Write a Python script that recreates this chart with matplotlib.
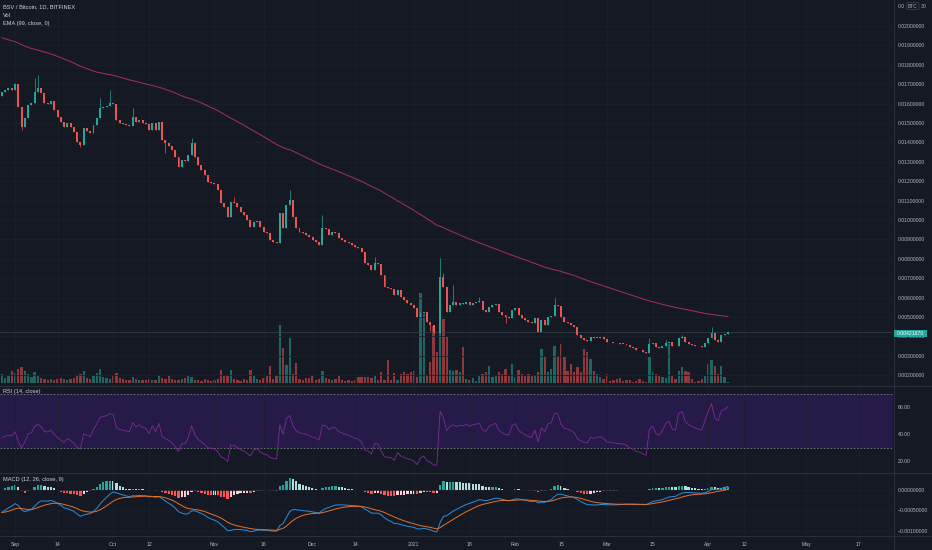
import matplotlib
matplotlib.use("Agg")
import matplotlib.pyplot as plt
import matplotlib.dates as mdates
from matplotlib.lines import Line2D
from matplotlib.patches import Rectangle
import numpy as np
import pandas as pd

# BSV / BTC daily candles (Bitfinex), 28 Aug 2020 .. 7 Apr 2021
first_date = "2020-08-28"
first_open = 0.01640
closes = [
    0.01660, 0.01670, 0.01680, 0.01670, 0.01701, 0.01582, 0.01479, 0.01526, 0.01593, 0.01603,
    0.01660, 0.01680, 0.01655, 0.01603, 0.01598, 0.01613, 0.01567, 0.01531, 0.01505, 0.01479,
    0.01500, 0.01479, 0.01454, 0.01402, 0.01387, 0.01474, 0.01459, 0.01448, 0.01490, 0.01526,
    0.01577, 0.01582, 0.01588, 0.01603, 0.01598, 0.01515, 0.01500, 0.01495, 0.01490, 0.01485,
    0.01531, 0.01505, 0.01515, 0.01500, 0.01495, 0.01464, 0.01500, 0.01464, 0.01505, 0.01412,
    0.01397, 0.01381, 0.01361, 0.01325, 0.01273, 0.01309, 0.01305, 0.01335, 0.01397, 0.01325,
    0.01284, 0.01258, 0.01232, 0.01196, 0.01191, 0.01186, 0.01155, 0.01088, 0.01067, 0.01015,
    0.01093, 0.01090, 0.01067, 0.01041, 0.01026, 0.01000, 0.00964, 0.00990, 0.00995, 0.00964,
    0.00938, 0.00933, 0.00897, 0.00887, 0.00881, 0.01036, 0.00959, 0.01077, 0.01103, 0.01015,
    0.00959, 0.00938, 0.00933, 0.00923, 0.00912, 0.00897, 0.00887, 0.00871, 0.00959, 0.00953,
    0.00923, 0.00938, 0.00933, 0.00907, 0.00897, 0.00887, 0.00881, 0.00871, 0.00861, 0.00856,
    0.00835, 0.00778, 0.00768, 0.00742, 0.00778, 0.00775, 0.00716, 0.00655, 0.00650, 0.00645,
    0.00613, 0.00639, 0.00603, 0.00588, 0.00572, 0.00562, 0.00546, 0.00500, 0.00521, 0.00526,
    0.00474, 0.00459, 0.00418, 0.00415, 0.00706, 0.00655, 0.00526, 0.00562, 0.00577, 0.00562,
    0.00572, 0.00567, 0.00577, 0.00562, 0.00572, 0.00575, 0.00580, 0.00536, 0.00526, 0.00552,
    0.00562, 0.00567, 0.00526, 0.00510, 0.00500, 0.00497, 0.00536, 0.00546, 0.00510, 0.00495,
    0.00485, 0.00474, 0.00469, 0.00495, 0.00423, 0.00485, 0.00459, 0.00500, 0.00505, 0.00562,
    0.00557, 0.00500, 0.00474, 0.00469, 0.00459, 0.00448, 0.00407, 0.00392, 0.00381, 0.00378,
    0.00397, 0.00392, 0.00394, 0.00397, 0.00387, 0.00371, 0.00369, 0.00366, 0.00364, 0.00362,
    0.00361, 0.00356, 0.00345, 0.00340, 0.00330, 0.00328, 0.00320, 0.00314, 0.00360, 0.00368,
    0.00345, 0.00340, 0.00350, 0.00366, 0.00371, 0.00350, 0.00348, 0.00392, 0.00397, 0.00370,
    0.00360, 0.00356, 0.00351, 0.00348, 0.00345, 0.00366, 0.00392, 0.00418, 0.00381, 0.00371,
    0.00407, 0.00412, 0.0042167,
]
# visible long wicks (candle index -> price)
wick_high = {4: 0.01706, 10: 0.01732, 11: 0.01747, 30: 0.01629, 33: 0.01670, 40: 0.01577,
             58: 0.01423, 71: 0.01119, 88: 0.01155, 98: 0.01026, 114: 0.00809, 134: 0.00804,
             135: 0.00727, 138: 0.00665, 146: 0.00603, 169: 0.00598, 198: 0.00392,
             203: 0.00381, 208: 0.00407, 217: 0.00448}
wick_low = {6: 0.01464, 24: 0.01376, 50: 0.01345, 131: 0.00430, 154: 0.00469}

# relative volume
volume = [
    9, 5, 7, 12, 10, 14, 16, 12, 9, 6,
    11, 8, 5, 4, 3, 4, 3, 4, 5, 4,
    3, 4, 5, 8, 9, 12, 5, 4, 7, 10,
    14, 6, 5, 4, 8, 10, 5, 4, 3, 3,
    6, 4, 3, 3, 3, 4, 3, 3, 8, 5,
    4, 7, 4, 3, 3, 4, 5, 8, 6, 3,
    3, 2, 4, 3, 2, 3, 4, 13, 7, 7,
    13, 4, 3, 2, 4, 3, 13, 8, 4, 3,
    5, 7, 17, 4, 7, 58, 35, 18, 45, 9,
    20, 4, 3, 5, 5, 7, 3, 4, 12, 5,
    4, 3, 4, 7, 3, 2, 3, 2, 3, 6,
    6, 6, 6, 5, 8, 3, 11, 3, 23, 3, 10, 3,
    9, 11, 9, 11, 12, 6, 90, 69, 8, 21, 57, 31, 75, 64, 46, 13,
    12,
    13, 11, 36, 4, 3, 5, 2, 7, 9, 11, 17, 6, 7, 11, 9, 14, 7, 19, 6, 13,
    9, 7, 9, 7, 8, 11, 34, 26, 11, 14, 37, 27, 39, 26, 12, 19, 11, 16, 11, 34,
    31, 24, 12, 9, 6, 4, 9, 2, 3, 4, 5, 2,
    3,
    3, 1, 2, 4, 2, 1, 26, 11, 9, 7, 6, 5, 39, 7, 4, 12, 16, 12, 11, 4,
    1, 2, 4, 7, 19, 23, 17, 9, 17, 6, 1,
]

ema_seed = 0.01945
ema12_seed, ema26_seed, signal_seed = 0.01650, 0.01710, -0.00055
rsi_gain_seed, rsi_loss_seed = 0.00020, 0.00036

last_price = 0.0042167
price_ticks = [0.002, 0.003, 0.004, 0.005, 0.006, 0.007, 0.008, 0.009, 0.010, 0.011,
               0.012, 0.013, 0.014, 0.015, 0.016, 0.017, 0.018, 0.019, 0.020]
rsi_ticks = [20, 40, 60]
macd_ticks = [0.0, -0.0005, -0.001]
time_ticks = ["2020-09-01", "2020-09-14", "2020-10-01", "2020-10-12", "2020-11-01",
              "2020-11-16", "2020-12-01", "2020-12-14", "2021-01-01", "2021-01-18",
              "2021-02-01", "2021-02-15", "2021-03-01", "2021-03-15", "2021-04-01",
              "2021-04-12", "2021-05-01", "2021-05-17"]
time_labels = ["Sep", "14", "Oct", "12", "Nov", "16", "Dec", "14", "2021", "18",
               "Feb", "15", "Mar", "15", "Apr", "12", "May", "17"]

BG = "#151924"
GRID = "#1c202b"
SEP = "#2a2e39"
TXT = "#b2b5be"
UP = "#26a69a"
DOWN = "#ef5350"

plt.rcParams["font.family"] = ["Liberation Sans", "DejaVu Sans"]

# ---- derived series ----
c = np.array(closes)
o = np.r_[first_open, c[:-1]]
hi = np.maximum(o, c)
lo = np.minimum(o, c)
for k, v in wick_high.items():
    hi[k] = max(hi[k], v)
for k, v in wick_low.items():
    lo[k] = min(lo[k], v)
up = c >= o

dates = pd.date_range(first_date, periods=len(c), freq="D")
x = mdates.date2num(dates)

def ema(seed, values, **kw):
    return pd.Series(np.r_[seed, values]).ewm(adjust=False, **kw).mean().values[1:]

ema99 = ema(ema_seed, c, span=99)
macd = ema(ema12_seed, c, span=12) - ema(ema26_seed, c, span=26)
signal = ema(signal_seed, macd, span=9)
hist = macd - signal
delta = np.diff(np.r_[first_open, c])
avg_gain = ema(rsi_gain_seed, np.clip(delta, 0, None), alpha=1 / 14)
avg_loss = ema(rsi_loss_seed, np.clip(-delta, 0, None), alpha=1 / 14)
rsi = 100 - 100 / (1 + avg_gain / avg_loss)

hist_colors = []
prev = hist[0]
for h in hist:
    if h >= 0:
        hist_colors.append("#26a69a" if h > prev else "#b2dfdb")
    else:
        hist_colors.append("#ffcdd2" if h > prev else "#ff5252")
    prev = h

# ---- layout in pixels ----
W, H = 932, 550
def fx(px):
    return px / W
def fy(py):
    return 1 - py / H

fig = plt.figure(figsize=(W / 100, H / 100), dpi=100, facecolor=BG)
plot_w = 893 / W
ax_p = fig.add_axes([0, fy(385), plot_w, 385 / H])
ax_r = fig.add_axes([0, fy(472), plot_w, 86 / H], sharex=ax_p)
ax_m = fig.add_axes([0, fy(535), plot_w, 62 / H], sharex=ax_p)
ax_v = ax_p.twinx()
ax_p.set_zorder(ax_v.get_zorder() + 1)
ax_p.patch.set_visible(False)

tick_x = mdates.date2num(pd.to_datetime(time_ticks))
x0 = mdates.date2num(pd.Timestamp("2020-09-01"))

for ax in (ax_p, ax_r, ax_m, ax_v):
    ax.set_facecolor(BG)
    for s in ax.spines.values():
        s.set_visible(False)
ax_p.set_xlim(x0 - 4.59, x0 + 268.5)

# volume
vol_colors = [UP if u else DOWN for u in up]
ax_v.bar(x, volume, width=0.7, color=vol_colors, alpha=0.55, linewidth=0)
ax_v.set_ylim(-2, 383)
ax_v.set_yticks([])
ax_v.tick_params(length=0, labelright=False)

# candles
cols = np.where(up, UP, DOWN)
ax_p.vlines(x, lo, hi, colors=cols, linewidth=0.5, zorder=3)
body = np.maximum(np.abs(c - o), 0.00003)
ax_p.bar(x, body, bottom=np.minimum(o, c), width=0.6, color=cols, linewidth=0, zorder=4)
ax_p.plot(x, ema99, color="#a8325a", linewidth=0.7, zorder=5)
ax_p.axhline(last_price, color="#2f3e46", linewidth=0.6, zorder=2)
ax_p.set_ylim(0.001495, 0.02134)
ax_p.yaxis.tick_right()
ax_p.set_yticks(price_ticks)
ax_p.set_yticklabels([f"{v:.8f}" for v in price_ticks])
ax_p.grid(True, color=GRID, linewidth=0.6)

# RSI
ax_r.axhspan(30, 70, color="#261a48", zorder=0, linewidth=0)
for lvl in (70, 30):
    ax_r.axhline(lvl, color="#787b86", linewidth=0.6, dashes=(2, 2))
ax_r.plot(x, rsi, color="#7f2a9c", linewidth=0.6)
ax_r.set_ylim(11.9, 75.6)
ax_r.yaxis.tick_right()
ax_r.set_yticks(rsi_ticks)
ax_r.set_yticklabels([f"{v:.2f}" for v in rsi_ticks])
ax_r.grid(True, axis="x", color=GRID, linewidth=0.6)

# MACD
ax_m.bar(x, hist, width=0.7, color=hist_colors, linewidth=0)
ax_m.plot(x, macd, color="#2a8ee0", linewidth=0.7)
ax_m.plot(x, signal, color="#e8702a", linewidth=0.7)
ax_m.set_ylim(-0.0011, 0.000415)
ax_m.yaxis.tick_right()
ax_m.set_yticks(macd_ticks)
ax_m.set_yticklabels([f"{v:.8f}".replace("-", "\u2212") for v in macd_ticks])
ax_m.grid(True, color=GRID, linewidth=0.6)

for ax in (ax_p, ax_r, ax_m):
    ax.set_xticks(tick_x)
    ax.tick_params(axis="y", length=0, pad=3.5, labelsize=3.7, labelcolor=TXT)
    ax.tick_params(axis="x", length=0, labelbottom=False)
ax_m.set_xticklabels(time_labels)
ax_m.tick_params(axis="x", labelbottom=True, pad=5, labelsize=3.7, labelcolor=TXT)

# pane separators and price scale border
for py in (385.5, 472.5, 535.5):
    fig.add_artist(Line2D([0, 1], [fy(py), fy(py)], color=SEP, linewidth=0.8))
fig.add_artist(Line2D([fx(893.5), fx(893.5)], [0, 1], color=SEP, linewidth=0.8))

# legends
LEG = "#d1d4dc"
fig.text(fx(3), fy(7), "BSV / Bitcoin, 1D, BITFINEX", color=LEG, fontsize=4.1, va="center")
fig.text(fx(3), fy(15.5), "Vol", color=LEG, fontsize=4.1, va="center")
fig.text(fx(3), fy(24), "EMA (99, close, 0)", color=LEG, fontsize=4.1, va="center")
fig.text(fx(3), fy(392), "RSI (14, close)", color=LEG, fontsize=4.1, va="center")
fig.text(fx(3), fy(480), "MACD (12, 26, close, 9)", color=LEG, fontsize=4.1, va="center")

# top-right scale header
fig.text(fx(898), fy(6), "0.0", color=TXT, fontsize=3.7, va="center")
fig.text(fx(908), fy(6), "BTC", color=TXT, fontsize=3.5, va="center",
         bbox=dict(boxstyle="round,pad=0.25", fc="none", ec="#434651", lw=0.5))
fig.text(fx(921), fy(6), "30", color=TXT, fontsize=3.7, va="center")

# last price tag
fig.add_artist(Rectangle((fx(894), fy(337)), 33 / W, 7 / H, transform=fig.transFigure,
                         facecolor=UP, edgecolor="none", zorder=5))
fig.text(fx(910.5), fy(333.4), f"{last_price:.8f}", color="white", fontsize=3.7,
         ha="center", va="center", zorder=6)

fig.savefig("out.png", dpi=100, facecolor=BG)
